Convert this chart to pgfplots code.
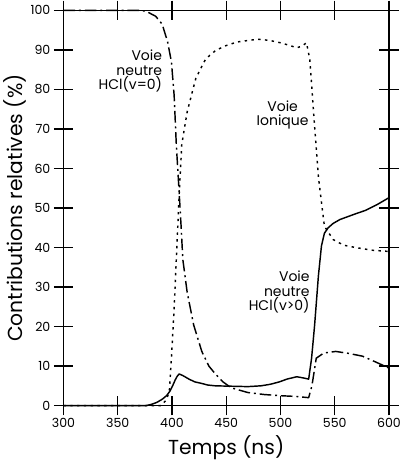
\documentclass[border=0pt]{standalone}
\usepackage{fontspec}
\setmainfont{Poppins}
\usepackage{pgfplots}
\pgfplotsset{compat=1.18}

\begin{document}
\begin{tikzpicture}
\begin{axis}[scale only axis, width=336bp, height=408bp,
  xmin=300, xmax=600, ymin=0, ymax=100,
  xtick={300,350,...,600}, ytick={0,10,...,100},
  tick align=center, major tick length=20bp,
  axis line style={line width=1.6pt},
  major tick style={black, line width=1.4pt},
  /pgf/number format/assume math mode=true,
  tick label style={font=\fontsize{13}{14}\selectfont},
  xlabel={Temps (ns)}, ylabel={Contributions relatives (\%)},
  label style={font=\fontsize{21}{23}\selectfont},
  xlabel style={yshift=-1bp}, ylabel style={yshift=-2bp},
  clip=false, cycle list={{black}},
  every axis plot/.append style={black, no marks, line width=1.5pt, line join=round}]
% HCl(v=0)
\addplot[dash pattern=on 12bp off 4bp on 2bp off 4bp] coordinates {
  (300,100) (370,100) (376,99.8) (385,98.5) (391,96.5) (396,92) (399.5,87)
  (402,78.5) (404,66) (406.7,53.6) (408.5,45) (410,37) (414,28.7) (420,20.4)
  (427.5,13.7) (434,10) (440,8) (447,6) (454.6,4.5) (470,3.3) (485,2.8)
  (500,2.5) (515,2.3) (526,2) (529,5) (533,12) (540,13.3) (551,13.7)
  (563,13.2) (575.6,12.5) (588,11) (600,9.5)};
% ionique
\addplot[dash pattern=on 2.5bp off 4.5bp] coordinates {
  (300,0) (390,0) (395,1.5) (397.6,3.7) (399.5,12) (402,24.5) (404,37)
  (406.7,53.6) (409,66) (414,74.3) (422,82.8) (431,87.7) (440,89.8) (449,91)
  (460,92) (479,92.7) (490,92.4) (500,91.8) (510,91) (515,90.5) (520,91)
  (524,91.8) (527,87.7) (530.5,74.3) (535,57.8) (540.5,45.4) (548.6,42)
  (558,40.6) (569,40) (585,39.3) (600,39)};
% HCl(v>0)
\addplot[solid] coordinates {
  (300,0) (376,0) (381,0.3) (386,0.8) (391,1.6) (395,2.5) (398,3.6)
  (400.6,5) (403,6.5) (405,7.5) (406.7,8) (410,7.6) (415.7,6.7) (421,6)
  (427.5,5.6) (433,5.2) (440,5) (455,4.9) (470,4.8) (482,5) (490.8,5.4)
  (499,6) (506,6.7) (515,7.3) (521,7) (526,6.7) (528.7,12) (531.5,20.4)
  (535,32.9) (537.8,40.4) (540.5,43.6) (544,45) (548.6,46.1) (555,47.1)
  (563,47.9) (570,48.6) (578.5,49.4) (590,51) (600,52.6)};
\node[align=right, anchor=east, font=\fontsize{14.5}{15}\selectfont]
  at (axis cs:394,84.6) {Voie\\neutre\\HCl(v=0)};
\node[align=center, font=\fontsize{14.5}{15}\selectfont]
  at (axis cs:502,73.5) {Voie\\Ionique};
\node[align=right, anchor=east, font=\fontsize{14.5}{15}\selectfont]
  at (axis cs:530,28.7) {Voie\\neutre\\HCl(v>0)};
\end{axis}
\end{tikzpicture}
\end{document}
